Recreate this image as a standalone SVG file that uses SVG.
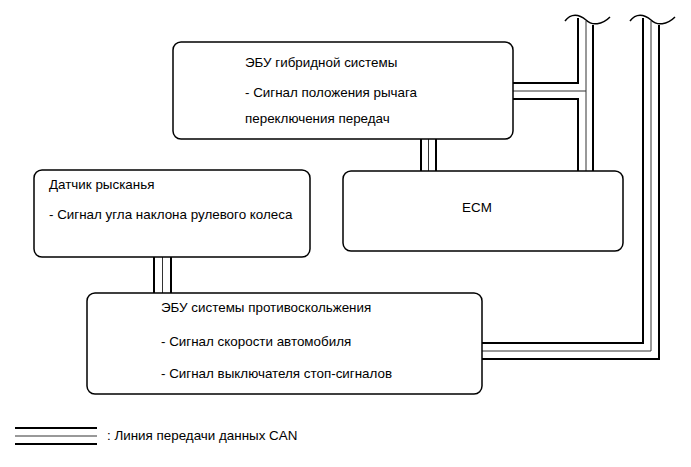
<svg xmlns="http://www.w3.org/2000/svg" width="691" height="467" viewBox="0 0 691 467">
<style>
.box{fill:#fff;stroke:#000;stroke-width:1.5}
.t{font-family:"Liberation Sans",Arial,sans-serif;font-size:13.4px;fill:#000}
.o{fill:none;stroke:#000;stroke-width:2}
.m{fill:none;stroke:#333;stroke-width:1}
.w{fill:none;stroke:#000;stroke-width:1.5}
</style>
<rect width="691" height="467" fill="#fff"/>
<g id="connectors">
<path class="o" d="M421,139V171M436,139V171"/>
<path class="m" d="M428.5,139V171"/>
<path class="o" d="M154,257V293M171,257V293"/>
<path class="m" d="M162.5,257V293"/>
<path class="o" d="M578,18V83H513M513,99H578V171M593,25V171"/>
<path class="m" d="M586,21V171M513,91H586"/>
<path class="w" d="M565,21C571,13 579,14 586,20C592,26 602,25 610,17"/>
<path class="o" d="M643,18V343H482M659,25V359H482"/>
<path class="m" d="M651,21V351H482"/>
<path class="w" d="M630,21C636,13 644,14 651,20C657,26 667,25 675,17"/>
</g>
<g id="hybrid">
<rect class="box" x="173" y="42" width="340" height="97" rx="8"/>
<text class="t" x="245" y="67">ЭБУ гибридной системы</text>
<text class="t" x="245" y="97">- Сигнал положения рычага</text>
<text class="t" x="245" y="123">переключения передач</text>
</g>
<g id="yaw">
<rect class="box" x="34" y="170" width="276" height="87" rx="8"/>
<text class="t" x="49" y="189">Датчик рысканья</text>
<text class="t" x="49" y="219">- Сигнал угла наклона рулевого колеса</text>
</g>
<g id="ecm">
<rect class="box" x="343" y="171" width="280" height="80" rx="8"/>
<text class="t" x="477" y="212" text-anchor="middle">ECM</text>
</g>
<g id="abs">
<rect class="box" x="87" y="293" width="395" height="101" rx="8"/>
<text class="t" x="161" y="312">ЭБУ системы противоскольжения</text>
<text class="t" x="161" y="346">- Сигнал скорости автомобиля</text>
<text class="t" x="161" y="378">- Сигнал выключателя стоп-сигналов</text>
</g>
<g id="legend">
<path class="o" d="M15,428H97M15,444H97"/>
<path class="m" d="M15,436H97"/>
<text class="t" x="107" y="440">: Линия передачи данных CAN</text>
</g>
</svg>
